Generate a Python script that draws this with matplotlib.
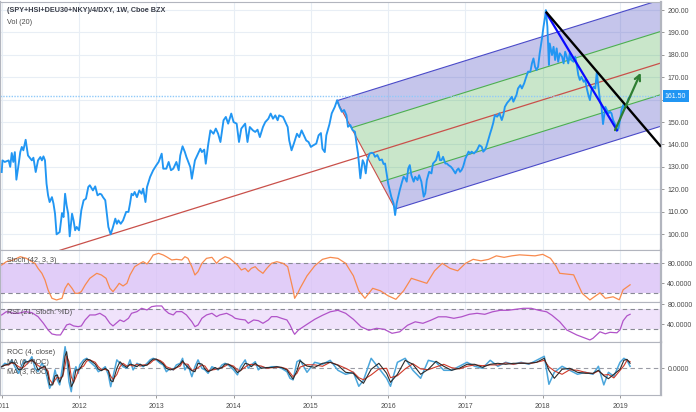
import matplotlib
matplotlib.use('Agg')
import matplotlib.pyplot as plt
import matplotlib.transforms as mtransforms

plt.rcParams['font.family'] = ['Liberation Sans', 'DejaVu Sans']

# ---------------- data (decimal years) ----------------
price_t = [2011.00, 2011.01, 2011.04, 2011.09, 2011.11, 2011.13, 2011.15, 2011.17, 2011.19, 2011.22,
           2011.24, 2011.26, 2011.28, 2011.31, 2011.34, 2011.39, 2011.41, 2011.44, 2011.47, 2011.50,
           2011.52, 2011.54, 2011.56, 2011.58, 2011.60, 2011.62, 2011.65, 2011.67, 2011.69, 2011.71,
           2011.75, 2011.78, 2011.80, 2011.82, 2011.84, 2011.86, 2011.88, 2011.91, 2011.93, 2011.95,
           2011.97, 2012.00, 2012.03, 2012.06, 2012.09, 2012.12, 2012.14, 2012.18, 2012.21, 2012.24,
           2012.27, 2012.29, 2012.31, 2012.34, 2012.36, 2012.38, 2012.41, 2012.44, 2012.47, 2012.49,
           2012.51, 2012.54, 2012.57, 2012.61, 2012.64, 2012.66, 2012.68, 2012.70, 2012.72, 2012.75,
           2012.78, 2012.81, 2012.83, 2012.86, 2012.88, 2012.92, 2012.96, 2013.00, 2013.03, 2013.07,
           2013.09, 2013.13, 2013.16, 2013.19, 2013.22, 2013.26, 2013.29, 2013.31, 2013.34, 2013.37,
           2013.39, 2013.44, 2013.46, 2013.50, 2013.54, 2013.57, 2013.59, 2013.62, 2013.64, 2013.67,
           2013.70, 2013.74, 2013.77, 2013.80, 2013.83, 2013.87, 2013.90, 2013.93, 2013.97, 2014.00,
           2014.04, 2014.07, 2014.10, 2014.15, 2014.18, 2014.21, 2014.25, 2014.28, 2014.31, 2014.34,
           2014.38, 2014.41, 2014.45, 2014.48, 2014.51, 2014.54, 2014.57, 2014.59, 2014.64, 2014.67,
           2014.70, 2014.72, 2014.75, 2014.78, 2014.82, 2014.85, 2014.88, 2014.91, 2014.94, 2014.97,
           2015.00, 2015.03, 2015.07, 2015.10, 2015.13, 2015.15, 2015.18, 2015.20, 2015.24, 2015.27,
           2015.31, 2015.34, 2015.37, 2015.40, 2015.43, 2015.46, 2015.48, 2015.51, 2015.54, 2015.57,
           2015.59, 2015.61, 2015.64, 2015.67, 2015.69, 2015.71, 2015.73, 2015.76, 2015.79, 2015.81,
           2015.83, 2015.86, 2015.89, 2015.92, 2015.94, 2015.96, 2015.98, 2016.00, 2016.02, 2016.04,
           2016.07, 2016.09, 2016.11, 2016.13, 2016.15, 2016.18, 2016.20, 2016.22, 2016.24, 2016.26,
           2016.28, 2016.30, 2016.33, 2016.35, 2016.38, 2016.40, 2016.43, 2016.46, 2016.48, 2016.50,
           2016.53, 2016.56, 2016.58, 2016.62, 2016.65, 2016.67, 2016.69, 2016.71, 2016.74, 2016.76,
           2016.78, 2016.81, 2016.83, 2016.87, 2016.89, 2016.91, 2016.93, 2016.95, 2016.97, 2017.00,
           2017.02, 2017.04, 2017.06, 2017.08, 2017.11, 2017.15, 2017.18, 2017.21, 2017.23, 2017.25,
           2017.27, 2017.30, 2017.32, 2017.34, 2017.36, 2017.38, 2017.41, 2017.44, 2017.47, 2017.49,
           2017.51, 2017.54, 2017.57, 2017.60, 2017.62, 2017.64, 2017.66, 2017.68, 2017.71, 2017.73,
           2017.76, 2017.78, 2017.81, 2017.84, 2017.86, 2017.88, 2017.90, 2017.92, 2017.94, 2017.96,
           2017.99, 2018.01, 2018.03, 2018.04, 2018.06, 2018.08, 2018.09, 2018.12, 2018.14, 2018.16,
           2018.18, 2018.20, 2018.22, 2018.25, 2018.27, 2018.29, 2018.31, 2018.33, 2018.35, 2018.37,
           2018.40, 2018.42, 2018.44, 2018.46, 2018.48, 2018.50, 2018.53, 2018.55, 2018.57, 2018.59,
           2018.61, 2018.63, 2018.66, 2018.68, 2018.70, 2018.72, 2018.74, 2018.76, 2018.78, 2018.81,
           2018.83, 2018.85, 2018.87, 2018.89, 2018.91, 2018.94, 2018.96, 2018.98, 2019.00, 2019.02,
           2019.04, 2019.06, 2019.09, 2019.11, 2019.13]
price = [127.7, 132.9, 132.2, 132.9, 130.0, 136.2, 132.2, 136.6, 124.3, 131.4,
         136.6, 138.9, 137.4, 142.1, 135.1, 132.9, 134.1, 127.7, 132.9, 134.4,
         132.9, 134.7, 132.9, 122.5, 117.3, 114.3, 116.5, 113.6, 109.1, 99.9,
         100.9, 109.4, 107.6, 118.0, 112.8, 109.1, 99.0, 109.1, 106.1, 101.7,
         103.2, 101.7, 110.6, 115.1, 115.8, 121.0, 121.8, 119.5, 121.3, 117.3,
         118.0, 117.7, 116.5, 115.1, 109.1, 103.2, 99.9, 103.2, 106.9, 104.6,
         106.1, 104.6, 106.1, 109.9, 109.9, 113.6, 118.0, 117.3, 118.8, 116.5,
         119.5, 118.0, 120.3, 114.3, 121.0, 125.5, 128.5, 130.7, 132.2, 135.9,
         129.2, 129.2, 132.2, 128.5, 129.2, 132.2, 128.5, 135.1, 139.2, 136.6,
         134.4, 129.9, 124.7, 132.9, 135.9, 138.1, 136.6, 137.7, 131.4, 139.6,
         146.3, 144.8, 147.1, 144.8, 141.1, 150.8, 152.3, 149.3, 153.8, 150.0,
         149.3, 141.1, 147.1, 149.3, 141.1, 147.8, 146.3, 145.6, 146.6, 143.3,
         147.8, 150.0, 151.5, 153.8, 151.5, 153.0, 150.8, 153.0, 152.3, 150.0,
         147.8, 141.8, 137.4, 140.4, 144.8, 143.3, 146.3, 144.1, 141.8, 141.1,
         138.9, 139.6, 140.4, 144.1, 145.1, 138.1, 136.6, 144.1, 149.0, 153.9,
         156.8, 159.8, 156.8, 154.6, 155.4, 153.1, 147.9, 148.7, 146.4, 145.7,
         140.5, 136.0, 124.9, 133.0, 131.5, 127.1, 133.0, 136.0, 136.3, 136.0,
         134.5, 135.3, 133.0, 133.3, 131.3, 131.5, 127.1, 122.6, 119.6, 116.7,
         113.7, 108.5, 113.7, 116.7, 119.6, 123.4, 125.6, 124.9, 123.4, 129.3,
         130.8, 126.3, 123.4, 125.6, 124.1, 126.3, 123.4, 116.7, 118.2, 124.1,
         127.8, 127.1, 131.5, 133.0, 136.7, 133.0, 133.0, 134.5, 131.5, 131.5,
         130.8, 130.1, 129.3, 127.1, 128.6, 129.3, 127.8, 128.6, 130.1, 133.8,
         135.3, 136.8, 136.0, 136.8, 136.0, 137.5, 139.7, 139.0, 136.8, 137.5,
         139.0, 142.7, 145.0, 147.2, 149.7, 153.1, 152.4, 153.9, 150.9, 153.1,
         156.8, 158.6, 159.8, 161.3, 159.1, 160.6, 162.1, 165.0, 166.5, 165.0,
         167.3, 169.5, 172.5, 172.5, 176.2, 178.4, 174.7, 173.2, 174.7, 180.6,
         187.3, 192.6, 197.0, 200.0, 192.6, 175.5, 185.1, 179.9, 183.6, 177.7,
         182.9, 176.9, 180.7, 179.2, 176.2, 181.4, 179.2, 176.2, 180.7, 177.7,
         176.9, 179.2, 175.5, 171.0, 168.8, 170.2, 168.0, 168.8, 165.0, 162.1,
         159.8, 164.3, 165.8, 165.0, 172.5, 165.8, 159.8, 156.8, 149.1, 156.8,
         155.4, 153.9, 154.6, 153.9, 150.9, 148.7, 146.1, 147.2, 150.9, 155.4,
         157.6, 156.1, 158.3, 160.6, 161.3]
last_price = 161.50

# pitchfork anchor points (pivot, high, low)
fork_t = [2011.70, 2015.334, 2016.092]
fork_v = [92.2, 159.5, 111.2]
# hand-drawn lines: black trend line, blue decline, green arrow
trend_t = [2018.04, 2019.53]
trend_v = [199.3, 139.0]
decline_t = [2018.05, 2018.96]
decline_v = [198.5, 146.4]
arrow_t = [2018.935, 2019.267]
arrow_v = [146.4, 172.0]

stoch_t = [2011.00, 2011.06, 2011.15, 2011.24, 2011.32, 2011.39, 2011.43, 2011.47, 2011.52, 2011.56,
           2011.60, 2011.65, 2011.71, 2011.78, 2011.82, 2011.86, 2011.91, 2011.95, 2011.99, 2012.03,
           2012.08, 2012.14, 2012.23, 2012.29, 2012.35, 2012.40, 2012.44, 2012.49, 2012.52, 2012.57,
           2012.62, 2012.66, 2012.72, 2012.79, 2012.83, 2012.88, 2012.92, 2012.96, 2013.03, 2013.09,
           2013.13, 2013.20, 2013.26, 2013.33, 2013.37, 2013.41, 2013.46, 2013.50, 2013.54, 2013.59,
           2013.65, 2013.72, 2013.78, 2013.82, 2013.89, 2013.95, 2014.00, 2014.05, 2014.10, 2014.15,
           2014.19, 2014.23, 2014.28, 2014.32, 2014.38, 2014.43, 2014.49, 2014.56, 2014.64, 2014.70,
           2014.73, 2014.77, 2014.79, 2014.83, 2014.86, 2014.95, 2015.05, 2015.15, 2015.25, 2015.35,
           2015.45, 2015.55, 2015.62, 2015.70, 2015.80, 2015.90, 2016.00, 2016.10, 2016.20, 2016.30,
           2016.40, 2016.50, 2016.60, 2016.70, 2016.80, 2016.90, 2017.00, 2017.10, 2017.20, 2017.30,
           2017.40, 2017.50, 2017.60, 2017.70, 2017.80, 2017.90, 2018.00, 2018.10, 2018.17, 2018.22,
           2018.40, 2018.45, 2018.51, 2018.61, 2018.74, 2018.81, 2018.91, 2018.99, 2019.04, 2019.13]
stoch = [76.7, 83.3, 86.7, 93.3, 90.0, 83.3, 80.0, 70.0, 60.0, 46.7,
         26.7, 10.0, 6.7, 10.0, 30.0, 40.0, 30.0, 20.0, 20.0, 23.3,
         36.7, 50.0, 60.0, 56.7, 50.0, 30.0, 23.3, 33.3, 40.0, 34.7,
         40.0, 56.7, 73.3, 80.0, 83.3, 78.7, 86.7, 96.7, 100.0, 96.7,
         93.3, 86.7, 88.0, 86.7, 93.3, 90.0, 73.3, 56.7, 63.3, 80.0,
         90.0, 92.0, 80.0, 86.7, 93.3, 90.0, 83.3, 76.7, 66.7, 70.0,
         63.3, 70.0, 73.3, 66.7, 60.0, 70.0, 80.0, 83.3, 80.0, 73.3,
         53.3, 26.7, 10.0, 20.0, 30.0, 55.0, 75.0, 88.0, 92.0, 90.0,
         80.0, 55.0, 25.0, 10.0, 30.0, 25.0, 15.0, 8.0, 25.0, 50.0,
         45.0, 40.0, 65.0, 80.0, 70.0, 65.0, 80.0, 88.0, 85.0, 88.0,
         95.0, 92.0, 95.0, 97.0, 96.0, 95.0, 98.0, 90.0, 75.0, 60.0,
         57.0, 40.0, 20.0, 6.7, 21.0, 10.0, 13.0, 7.0, 27.0, 37.0]

rsi_t = [2011.00, 2011.06, 2011.15, 2011.22, 2011.30, 2011.39, 2011.47, 2011.54, 2011.60, 2011.65,
         2011.71, 2011.76, 2011.80, 2011.84, 2011.88, 2011.93, 2011.99, 2012.03, 2012.08, 2012.14,
         2012.21, 2012.27, 2012.34, 2012.40, 2012.44, 2012.49, 2012.53, 2012.58, 2012.64, 2012.68,
         2012.75, 2012.81, 2012.88, 2012.94, 2013.00, 2013.07, 2013.11, 2013.16, 2013.22, 2013.26,
         2013.33, 2013.39, 2013.46, 2013.50, 2013.54, 2013.59, 2013.65, 2013.72, 2013.78, 2013.82,
         2013.91, 2013.98, 2014.02, 2014.08, 2014.15, 2014.19, 2014.26, 2014.32, 2014.38, 2014.45,
         2014.49, 2014.56, 2014.62, 2014.69, 2014.73, 2014.77, 2014.79, 2014.84, 2014.95, 2015.05,
         2015.15, 2015.25, 2015.35, 2015.45, 2015.55, 2015.65, 2015.75, 2015.85, 2015.95, 2016.05,
         2016.15, 2016.25, 2016.35, 2016.45, 2016.55, 2016.65, 2016.75, 2016.85, 2016.95, 2017.05,
         2017.15, 2017.25, 2017.35, 2017.45, 2017.55, 2017.65, 2017.75, 2017.85, 2017.95, 2018.05,
         2018.12, 2018.22, 2018.31, 2018.44, 2018.61, 2018.65, 2018.74, 2018.81, 2018.87, 2018.96,
         2019.00, 2019.04, 2019.09, 2019.13]
rsi = [58.7, 65.3, 62.0, 62.0, 65.3, 63.3, 55.3, 42.0, 28.7, 20.7,
       18.7, 18.7, 28.7, 38.7, 40.7, 36.7, 35.3, 36.7, 48.7, 58.7,
       58.7, 62.0, 55.3, 42.0, 36.7, 43.3, 48.7, 45.3, 52.0, 62.0,
       65.3, 72.0, 68.7, 75.3, 76.7, 76.7, 68.7, 62.0, 58.7, 65.3,
       65.3, 58.7, 45.3, 35.3, 38.7, 52.0, 58.7, 62.0, 55.3, 58.7,
       62.0, 56.7, 52.0, 50.0, 48.7, 42.0, 48.7, 47.3, 42.0, 48.7,
       55.3, 55.3, 52.0, 48.7, 38.7, 25.3, 20.0, 28.7, 40.0, 50.0,
       58.0, 65.0, 68.0, 62.0, 50.0, 35.0, 28.0, 32.0, 30.0, 22.0,
       25.0, 38.0, 45.0, 42.0, 48.0, 55.0, 55.0, 52.0, 55.0, 60.0,
       62.0, 60.0, 65.0, 68.0, 68.0, 70.0, 72.0, 72.0, 68.0, 65.0,
       58.0, 45.0, 28.7, 18.7, 8.7, 12.0, 25.0, 21.0, 24.0, 23.0,
       29.0, 47.0, 57.0, 60.0]

roc_t = [2011.00, 2011.04, 2011.09, 2011.13, 2011.17, 2011.22, 2011.26, 2011.30, 2011.34, 2011.39,
         2011.43, 2011.47, 2011.52, 2011.56, 2011.60, 2011.62, 2011.66, 2011.69, 2011.72, 2011.75,
         2011.79, 2011.82, 2011.84, 2011.87, 2011.90, 2011.93, 2011.96, 2011.99, 2012.01, 2012.06,
         2012.10, 2012.14, 2012.21, 2012.25, 2012.29, 2012.34, 2012.38, 2012.41, 2012.44, 2012.49,
         2012.53, 2012.57, 2012.62, 2012.66, 2012.70, 2012.75, 2012.79, 2012.83, 2012.88, 2012.92,
         2012.96, 2013.00, 2013.05, 2013.09, 2013.13, 2013.18, 2013.22, 2013.26, 2013.31, 2013.34,
         2013.37, 2013.41, 2013.46, 2013.50, 2013.54, 2013.59, 2013.63, 2013.67, 2013.72, 2013.76,
         2013.80, 2013.85, 2013.89, 2013.93, 2014.00, 2014.05, 2014.09, 2014.15, 2014.19, 2014.23,
         2014.28, 2014.32, 2014.36, 2014.43, 2014.49, 2014.56, 2014.62, 2014.69, 2014.73, 2014.77,
         2014.82, 2014.86, 2014.95, 2015.05, 2015.15, 2015.25, 2015.35, 2015.45, 2015.55, 2015.62,
         2015.68, 2015.78, 2015.88, 2015.98, 2016.03, 2016.12, 2016.22, 2016.32, 2016.42, 2016.52,
         2016.62, 2016.72, 2016.82, 2016.92, 2017.02, 2017.12, 2017.22, 2017.32, 2017.42, 2017.52,
         2017.62, 2017.72, 2017.82, 2017.92, 2018.02, 2018.08, 2018.15, 2018.25, 2018.35, 2018.45,
         2018.55, 2018.65, 2018.72, 2018.79, 2018.85, 2018.92, 2019.00, 2019.05, 2019.09, 2019.13]
roc = [0.8, 2.5, 1.7, 4.2, 0.8, -2.5, 1.7, 4.2, 2.5, 5.8,
       0.0, -1.7, 2.5, 0.0, -6.7, -10.0, -6.7, -0.8, -5.8, -8.3,
       1.7, 10.8, 5.8, -6.7, -11.7, -2.5, 0.8, -2.5, 1.7, 4.2,
       5.0, 3.3, 0.8, -1.7, -0.8, 0.8, -3.3, -9.2, -4.2, 4.2,
       2.5, 0.8, 0.0, 4.2, -0.8, 2.5, 1.7, 0.8, 2.5, 4.2,
       5.0, 4.2, 2.5, 1.7, -1.7, 0.0, -0.8, 1.7, 2.5, 5.0,
       -0.8, 1.7, -4.2, 0.8, 4.2, 0.0, -0.8, -2.5, 0.8, 0.0,
       -0.8, 1.7, 2.5, 1.7, -0.8, -3.3, 0.8, 4.2, 0.0, 1.7,
       3.3, -0.8, 0.8, 0.0, 0.8, 0.8, 0.0, -1.7, -5.0, -5.8,
       3.3, 4.2, -2.0, 3.0, 2.0, 4.0, -1.0, -3.0, -2.0, -9.0,
       -6.0, 5.0, 0.0, -5.0, -9.0, 3.0, 5.0, -1.0, -5.0, 4.0,
       3.0, -1.0, -1.0, 1.0, 3.0, 1.0, 0.0, 4.0, 1.0, 3.0,
       2.0, 3.0, 2.0, 4.0, 6.0, -8.0, -2.0, 1.0, -1.0, -3.0,
       -2.0, -3.0, 1.0, -8.3, -2.0, -4.0, 3.0, 5.0, 4.0, 1.0]
roc_ma6 = [0.8, 1.6, 1.7, 2.8, 2.2, 0.8, 0.0, 1.1, 2.8, 4.2,
           2.8, 1.4, 0.3, 0.3, -1.4, -5.6, -7.8, -5.8, -4.4, -5.0,
           -4.1, 1.4, 6.1, 3.3, -4.2, -7.0, -4.5, -1.4, 0.0, 1.1,
           3.6, 4.2, 3.0, 0.8, -0.6, -0.6, -1.1, -3.9, -5.6, -3.1,
           0.8, 2.5, 1.1, 1.7, 1.1, 2.0, 1.1, 1.7, 1.7, 2.5,
           3.9, 4.5, 3.9, 2.8, 0.8, 0.0, -0.8, 0.3, 1.1, 3.1,
           2.2, 2.0, -1.1, -0.6, 0.3, 1.7, 1.1, -1.1, -0.8, -0.6,
           0.0, 0.3, 1.1, 2.0, 1.1, -0.8, -1.1, 0.6, 1.7, 2.0,
           1.7, 1.4, 1.1, 0.0, 0.3, 0.5, 0.5, -0.3, -2.2, -4.2,
           -2.5, 0.6, 1.8, 1.7, 1.0, 3.0, 1.7, 0.0, -2.0, -4.7,
           -5.7, -3.3, -0.3, 0.0, -4.7, -3.7, -0.3, 2.3, -0.3, -0.7,
           0.7, 2.0, 0.3, -0.3, 1.0, 1.7, 1.3, 1.7, 1.7, 2.7,
           2.0, 2.7, 2.3, 3.0, 4.0, 0.7, -1.3, -3.0, -0.7, -1.0,
           -2.0, -2.7, -1.3, -3.4, -3.1, -4.8, -1.0, 1.3, 4.0, 3.3]
roc_ma3 = [0.8, 1.6, 2.1, 3.0, 2.5, -0.8, -0.4, 3.0, 3.4, 4.2,
           2.9, -0.8, 0.4, 1.2, -3.3, -8.3, -8.3, -3.8, -3.3, -7.0,
           -3.3, 6.2, 8.3, -0.4, -9.2, -7.1, -0.8, -0.8, -0.4, 3.0,
           4.6, 4.2, 2.1, -0.4, -1.2, 0.0, -1.2, -6.2, -6.7, 0.0,
           3.3, 1.7, 0.4, 2.1, 1.7, 0.8, 2.1, 1.2, 1.6, 3.3,
           4.6, 4.6, 3.3, 2.1, 0.0, -0.8, -0.4, 0.4, 2.1, 3.8,
           2.1, 0.4, -1.2, -1.7, 2.5, 2.1, -0.4, -1.7, -0.8, 0.4,
           -0.4, 0.4, 2.1, 2.1, 0.4, -2.1, -1.2, 2.5, 2.1, 0.8,
           2.5, 1.2, 0.0, 0.4, 0.4, 0.8, 0.4, -0.8, -3.3, -5.4,
           -1.2, 3.8, 1.1, 0.5, 2.5, 3.0, 1.5, -2.0, -2.5, -5.5,
           -7.5, -0.5, 2.5, -2.5, -7.0, -3.0, 4.0, 2.0, -3.0, -0.5,
           3.5, 1.0, -1.0, 0.0, 2.0, 2.0, 0.5, 2.0, 2.5, 2.0,
           2.5, 2.5, 2.5, 3.0, 5.0, -1.0, -5.0, -0.5, 0.0, -2.0,
           -2.5, -2.5, -1.0, -3.7, -5.2, -3.0, -0.5, 4.0, 4.5, 2.5]

years = [2011, 2012, 2013, 2014, 2015, 2016, 2017, 2018, 2019]
price_ticks = [100, 110, 120, 130, 140, 150, 160, 170, 180, 190, 200]

# ---------------- layout ----------------
W, H = 696, 412
X0, X1 = 2010.978, 2019.53
GRID = '#e8eef5'
TXT = '#4a4a4a'
BORDER = '#b2b5be'

fig = plt.figure(figsize=(W / 100, H / 100), dpi=100)


def panel(top, bottom):
    a = fig.add_axes([0, 1 - bottom / H, 661 / W, (bottom - top) / H])
    a.set_xlim(X0, X1)
    a.yaxis.tick_right()
    a.tick_params(axis='y', length=2.5, width=0.6, color='#888888', labelsize=5,
                  labelcolor=TXT, pad=2)
    a.set_xticks(years)
    a.tick_params(axis='x', length=0, labelbottom=False)
    for yr in years:
        a.axvline(yr, color=GRID, lw=0.8, zorder=0)
    for s in a.spines.values():
        s.set_color(BORDER)
        s.set_linewidth(0.8)
    a.spines['right'].set_linewidth(1.6)
    a.spines['left'].set_linewidth(1.6)
    return a


# ---------------- main price panel ----------------
ax = panel(2, 250)
ax.set_ylim(92.9, 203.6)
ax.set_yticks(price_ticks)
ax.set_yticklabels(['%.2f' % v for v in price_ticks])
for v in price_ticks:
    ax.axhline(v, color=GRID, lw=0.8, zorder=0)

# pitchfork
p1 = (fork_t[0], fork_v[0])
p2 = (fork_t[1], fork_v[1])
p3 = (fork_t[2], fork_v[2])
mid = ((p2[0] + p3[0]) / 2, (p2[1] + p3[1]) / 2)
slope = (mid[1] - p1[1]) / (mid[0] - p1[0])


def along(f):
    return (p2[0] + f * (p3[0] - p2[0]), p2[1] + f * (p3[1] - p2[1]))


def to_edge(pt):
    return (X1, pt[1] + slope * (X1 - pt[0]))


starts = [along(0.0), along(0.25), along(0.5), along(0.75), along(1.0)]
ends = [to_edge(s) for s in starts]
fills = ['#3f3fbf', '#4caf50', '#4caf50', '#3f3fbf']
for i in range(4):
    a, b = starts[i], starts[i + 1]
    c, d = ends[i], ends[i + 1]
    ax.fill([a[0], c[0], d[0], b[0]], [a[1], c[1], d[1], b[1]],
            color=fills[i], alpha=0.3, lw=0, zorder=1)
edge_cols = ['#4a4ac8', '#4caf50', None, '#4caf50', '#4a4ac8']
for s, e, col in zip(starts, ends, edge_cols):
    if col:
        ax.plot([s[0], e[0]], [s[1], e[1]], color=col, lw=0.8, zorder=2)
me = to_edge(mid)
ax.plot([p1[0], me[0]], [p1[1], me[1]], color='#c9504a', lw=0.9, zorder=2)
ax.plot([p2[0], p3[0]], [p2[1], p3[1]], color='#c9504a', lw=0.8, zorder=2)

ax.axhline(last_price, color='#90caf9', lw=1.0, ls=(0, (1, 1)), zorder=2)
ax.plot(price_t, price, color='#2196f3', lw=1.35, zorder=3)

ax.plot(decline_t, decline_v, color='#0a0aff', lw=1.6, zorder=4)
ax.plot(trend_t, trend_v, color='black', lw=1.7, zorder=4, solid_capstyle='butt')
ax.annotate('', xy=(arrow_t[1], arrow_v[1]), xytext=(arrow_t[0], arrow_v[0]),
            arrowprops=dict(arrowstyle='->', color='#2e7d32', lw=1.6,
                            mutation_scale=10, shrinkA=0, shrinkB=0), zorder=5)

trans = mtransforms.blended_transform_factory(ax.transAxes, ax.transData)
ax.text(1.006, last_price, '%.2f' % last_price, transform=trans, fontsize=5,
        color='white', va='center', ha='left', zorder=10,
        bbox=dict(boxstyle='square,pad=0.35', fc='#2196f3', ec='none'))

fig.text(7 / W, 1 - 11 / H, '(SPY+HSI+DEU30+NKY)/4/DXY, 1W, Cboe BZX', fontsize=5.2,
         color='#3a3d48', weight='bold', va='center', ha='left')
fig.text(7 / W, 1 - 23 / H, 'Vol (20)', fontsize=5.2, color=TXT, va='center', ha='left')

# ---------------- stochastic panel ----------------
ax_s = panel(250, 302)
ax_s.set_ylim(2.6, 106.7)
ax_s.axhspan(20, 80, color='#d8bdf6', alpha=0.75, lw=0, zorder=0)
for lv in (20, 80):
    ax_s.axhline(lv, color='#888a94', lw=0.8, ls=(0, (4, 3)), zorder=1)
ax_s.plot(stoch_t, stoch, color='#f88a4e', lw=0.9, zorder=3)
ax_s.set_yticks([40, 80])
ax_s.set_yticklabels(['40.0000', '80.0000'])
ax_s.text(7 / 661, 1 - 10 / 52, 'Stoch (42, 3, 3)', transform=ax_s.transAxes,
          fontsize=5.2, color=TXT, va='center')

# ---------------- RSI panel ----------------
ax_r = panel(302, 342)
ax_r.set_ylim(4.6, 84.6)
ax_r.axhspan(30, 70, color='#efe0fb', alpha=0.9, lw=0, zorder=0)
for lv in (30, 70):
    ax_r.axhline(lv, color='#888a94', lw=0.8, ls=(0, (4, 3)), zorder=1)
ax_r.plot(rsi_t, rsi, color='#b153c9', lw=0.9, zorder=3)
ax_r.set_yticks([40, 80])
ax_r.set_yticklabels(['40.0000', '80.0000'])
ax_r.text(7 / 661, 1 - 11 / 40, 'RSI (21, Stoch: %D)', transform=ax_r.transAxes,
          fontsize=5.2, color=TXT, va='center')

# ---------------- ROC panel ----------------
ax_c = panel(342, 395)
ax_c.set_ylim(-13.35, 13.15)
ax_c.axhline(0, color='#9a9ca5', lw=0.8, ls=(0, (4, 3)), zorder=1)
ax_c.plot(roc_t, roc, color='#4ba6dc', lw=1.1, zorder=3)
ax_c.plot(roc_t, roc_ma6, color='#d03a2a', lw=0.8, zorder=4)
ax_c.plot(roc_t, roc_ma3, color='#2b2b2b', lw=0.8, zorder=5)
ax_c.set_yticks([0])
ax_c.set_yticklabels(['0.0000'])
ax_c.tick_params(axis='x', length=2, width=0.6, color='#888888', labelbottom=True,
                 labelsize=5, labelcolor=TXT, pad=4)
ax_c.set_xticklabels([str(y) for y in years])
for i, lab in enumerate(['ROC (4, close)', 'MA (6, ROC)', 'MA (3, ROC)']):
    ax_c.text(7 / 661, 1 - (10 + 10 * i) / 53, lab, transform=ax_c.transAxes,
              fontsize=5.2, color=TXT, va='center')

fig.savefig('out.png', dpi=100)
